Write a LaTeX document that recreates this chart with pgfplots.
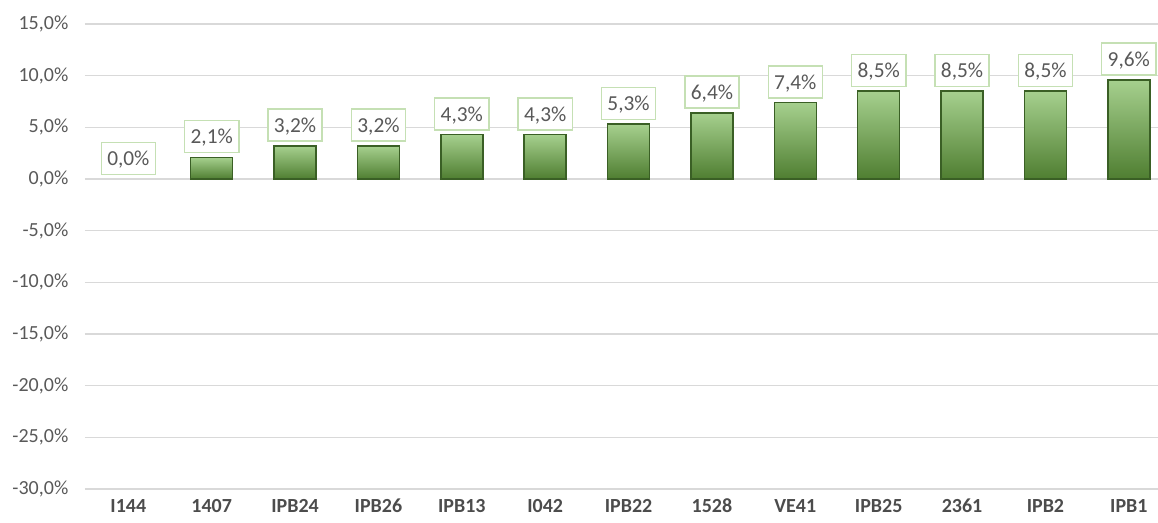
\documentclass[border=0pt]{standalone}
\usepackage{pgfplots}
\pgfplotsset{compat=1.18}
\usepackage{fontspec}
\setmainfont{Carlito}
\usetikzlibrary{calc}
\definecolor{tickgray}{HTML}{595959}
\definecolor{gridgray}{HTML}{D9D9D9}
\definecolor{bartop}{HTML}{A6D08E}
\definecolor{barbot}{HTML}{4F7E31}
\definecolor{barline}{HTML}{3A5F25}
\definecolor{boxline}{HTML}{C5E0B4}
\pgfplotsset{mybar/.style={ybar, bar shift=0pt, bar width=31.5pt, draw=barline, line width=1.1pt,
  shading=axis, top color=bartop, bottom color=barbot}}
\begin{document}
\begin{tikzpicture}
\begin{axis}[
  scale only axis,
  width=804.75pt, height=348.75pt,
  xmin=-0.52, xmax=12.35,
  ymin=-30, ymax=15,
  ytick={-30,-25,...,15},
  xtick={0,...,12},
  xticklabels={I144,1407,IPB24,IPB26,IPB13,I042,IPB22,1528,VE41,IPB25,2361,IPB2,IPB1},
  axis line style={draw=none},
  tick style={draw=none},
  ymajorgrids,
  grid style={gridgray, line width=0.9pt},
  /pgf/number format/assume math mode=true,
  yticklabel={\pgfmathprintnumber[fixed,fixed zerofill,precision=1,use comma]{\tick}\%},
  yticklabel style={font=\fontsize{15}{15}\selectfont, text=tickgray, xshift=-9pt},
  xticklabel style={font=\fontsize{15}{15}\selectfont\bfseries, text=tickgray!85!black,
    text height=11pt, text depth=0pt, yshift=-3pt},
  clip=false,
  nodes near coords={\pgfmathprintnumber[fixed,fixed zerofill,precision=1,use comma]{\pgfplotspointmeta}\%},
  every node near coord/.append style={
    anchor=south, yshift=3pt, draw=boxline, line width=1.1pt, fill=white,
    text=tickgray, font=\fontsize{16}{16}\selectfont,
    inner xsep=4.5pt, inner ysep=0pt, text height=17.5pt, text depth=6.5pt},
]
\addplot[only marks, mark=none] coordinates {(0,0)};
\addplot[mybar] coordinates {(1,2.1)};
\addplot[mybar] coordinates {(2,3.2)};
\addplot[mybar] coordinates {(3,3.2)};
\addplot[mybar] coordinates {(4,4.3)};
\addplot[mybar] coordinates {(5,4.3)};
\addplot[mybar] coordinates {(6,5.3)};
\addplot[mybar] coordinates {(7,6.4)};
\addplot[mybar] coordinates {(8,7.4)};
\addplot[mybar] coordinates {(9,8.5)};
\addplot[mybar] coordinates {(10,8.5)};
\addplot[mybar] coordinates {(11,8.5)};
\addplot[mybar] coordinates {(12,9.6)};
\end{axis}
\pgfresetboundingbox
\path ($(current axis.south west)+(-63.75pt,-25.5pt)$) rectangle ($(current axis.north east)+(0pt,18pt)$);
\end{tikzpicture}
\end{document}
